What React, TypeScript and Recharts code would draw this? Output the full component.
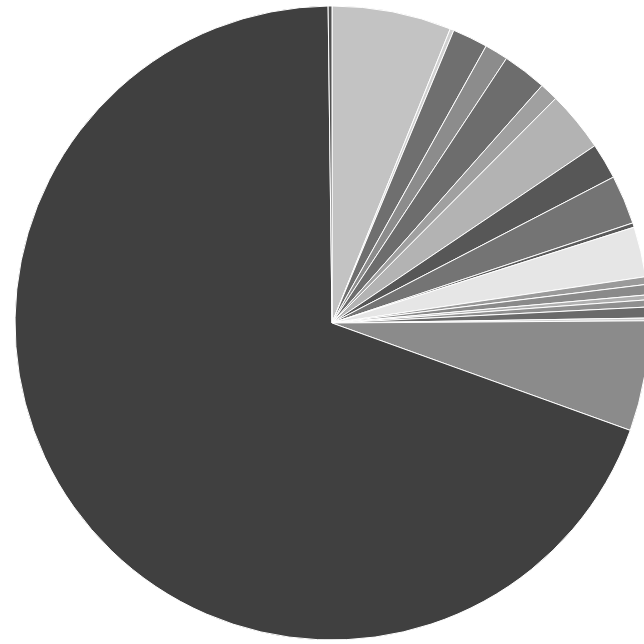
import React from 'react';
import { PieChart, Pie, Cell } from 'recharts';

const categories = [
  'A', 'B', 'C', 'D', 'E', 'F', 'G', 'H', 'I', 'J',
  'K', 'L', 'M', 'N', 'O', 'P', 'Q', 'R', 'S', 'T',
];
const values = [
  21.9, 0.7, 6.5, 4.3, 8.1, 3.4, 11.1, 6.6, 9.0, 0.8,
  9.2, 1.4, 1.9, 0.9, 1.3, 2.0, 0.5, 20.2, 249.5, 0.7,
];
const colors = [
  '#c3c3c3', '#d0d0d0', '#6f6f6f', '#8c8c8c', '#6d6d6d', '#a0a0a0', '#b3b3b3', '#575757', '#747474', '#5a5a5a',
  '#e6e6e6', '#9a9a9a', '#8a8a8a', '#b0b0b0', '#8f8f8f', '#6a6a6a', '#cfcfcf', '#8b8b8b', '#404040', '#505050',
];

const data = categories.map((name, i) => ({ name, value: values[i] }));

export default function App() {
  return (
    <div style={{ position: 'absolute', left: 0, top: 0, width: 644, height: 644, background: '#fff' }}>
      <PieChart width={644} height={644} margin={{ top: 0, right: 0, bottom: 0, left: 0 }}>
        <Pie
          data={data}
          dataKey="value"
          nameKey="name"
          cx={332}
          cy={323}
          outerRadius={317}
          startAngle={90}
          endAngle={-270}
          stroke="#fff"
          strokeWidth={1}
          isAnimationActive={false}
        >
          {data.map((d, i) => (
            <Cell key={d.name} fill={colors[i]} />
          ))}
        </Pie>
      </PieChart>
    </div>
  );
}
